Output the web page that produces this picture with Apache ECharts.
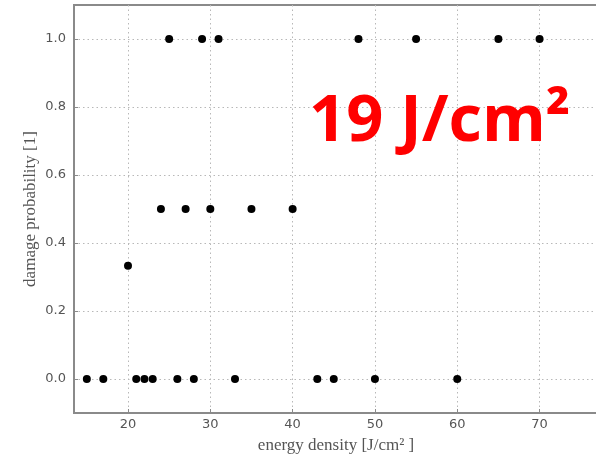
<!DOCTYPE html>
<html><head><meta charset="utf-8">
<script src="https://cdn.jsdelivr.net/npm/echarts@6/dist/echarts.min.js"></script>
<style>html,body{margin:0;padding:0;background:#fff}#c{width:596px;height:458px}</style>
</head><body><div id="c"></div>
<script>
const energy0 = [15, 17, 21, 22, 23, 26, 28, 33, 43, 45, 50, 60];
const prob0 = [0, 0, 0, 0, 0, 0, 0, 0, 0, 0, 0, 0];
const energyThird = [20];
const probThird = [0.333];
const energyHalf = [24, 27, 30, 35, 40];
const probHalf = [0.5, 0.5, 0.5, 0.5, 0.5];
const energy1 = [25, 29, 31, 48, 55, 65, 70];
const prob1 = [1, 1, 1, 1, 1, 1, 1];
const xTicks = [20, 30, 40, 50, 60, 70];
const yTicks = [0.0, 0.2, 0.4, 0.6, 0.8, 1.0];
const annotation = '19 J/cm²';

const pts = [];
[[energy0, prob0], [energyThird, probThird], [energyHalf, probHalf], [energy1, prob1]].forEach(([xs, ys]) => {
  xs.forEach((x, i) => pts.push([x, ys[i]]));
});

const frame = '#8a8a8a';
const grid = '#b8b8b8';
const chart = echarts.init(document.getElementById('c'), null, {renderer: 'canvas'});
chart.setOption({
  animation: false,
  grid: {left: 74, top: 5, right: -2, bottom: 45, outerBoundsMode: 'none', containLabel: false,
    show: true, borderColor: frame, borderWidth: 2, backgroundColor: 'transparent'},
  xAxis: {
    type: 'value', min: 13.44, max: 77.1,
    name: 'energy density [J/cm² ]', nameLocation: 'middle', nameGap: 24,
    nameTextStyle: {fontFamily: 'Liberation Serif', fontSize: 17, color: '#555'},
    axisLine: {show: true, onZero: false, lineStyle: {color: frame, width: 2}},
    axisTick: {show: true, inside: true, length: 4, customValues: xTicks, lineStyle: {color: frame}},
    axisLabel: {customValues: xTicks, margin: 5, fontFamily: 'DejaVu Sans', fontSize: 13, color: '#555'},
    splitLine: {show: true, customValues: xTicks, lineStyle: {color: grid, type: [1.5, 3], width: 1}}
  },
  yAxis: {
    type: 'value', min: -0.1, max: 1.1,
    name: 'damage probability [1]', nameLocation: 'middle', nameGap: 35, nameMoveOverlap: false,
    nameTextStyle: {fontFamily: 'Liberation Serif', fontSize: 17, color: '#555'},
    axisLine: {show: true, onZero: false, lineStyle: {color: frame, width: 2}},
    axisTick: {show: true, inside: true, length: 4, customValues: yTicks, lineStyle: {color: frame}},
    axisLabel: {customValues: yTicks, margin: 8, fontFamily: 'DejaVu Sans', fontSize: 13, color: '#555',
      formatter: v => v.toFixed(1)},
    splitLine: {show: true, customValues: yTicks, lineStyle: {color: grid, type: [1.5, 3], width: 1}}
  },
  graphic: [{
    type: 'text', left: 309, top: 90, z: 100,
    style: {text: annotation, fill: '#ff0000', font: 'bold 65px "Open Sans"'}
  }],
  series: [{
    type: 'scatter', data: pts, symbol: 'circle', symbolSize: 8,
    itemStyle: {color: '#000', opacity: 1}, z: 10
  }]
});
</script></body></html>
